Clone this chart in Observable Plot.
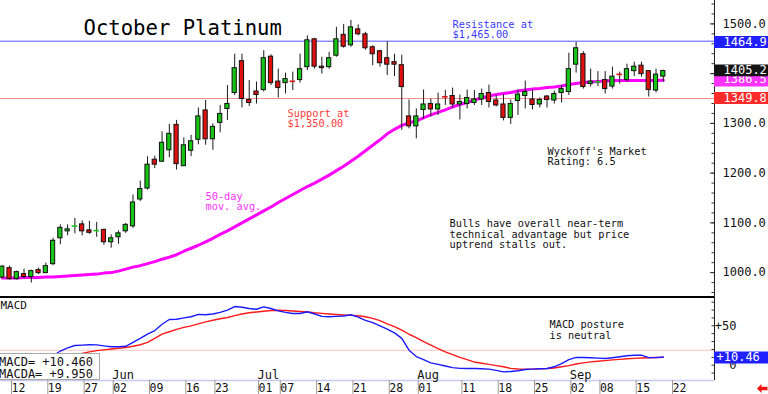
<!DOCTYPE html>
<html>
<head>
<meta charset="utf-8">
<script src="https://cdn.jsdelivr.net/npm/d3@7"></script>
<script src="https://cdn.jsdelivr.net/npm/@observablehq/plot@0.6"></script>
<style>
  html, body { margin: 0; padding: 0; background: #fff; }
  #chart { position: relative; width: 768px; height: 394px; overflow: hidden; background: #fff; font-family: "DejaVu Sans Mono", monospace; }
  #chart svg.plot { position: absolute; left: 0; display: block; overflow: visible; }
  #chart #legend { position: absolute; left: -2px; top: 353px; width: 102px; height: 27px; box-sizing: border-box;
            background: #fff; border: 1px solid #a8a8a8; font-family: "DejaVu Sans Mono", monospace; font-size: 12px;
            line-height: 11.7px; white-space: pre; padding: 3px 0 0 0; color: #111; }
  #chart #arrow { position: absolute; left: 757px; top: 384px; display: block; }
</style>
</head>
<body>
<div id="chart"></div>
<script>
// ---- trading days (2025), plus the next axis date ----
const days = [
  "05-09","05-12","05-13","05-14","05-15","05-16","05-19","05-20","05-21","05-22","05-23","05-27","05-28","05-29","05-30",
  "06-02","06-03","06-04","06-05","06-06","06-09","06-10","06-11","06-12","06-13","06-16","06-17","06-18","06-20","06-23","06-24","06-25","06-26","06-27","06-30",
  "07-01","07-02","07-03","07-07","07-08","07-09","07-10","07-11","07-14","07-15","07-16","07-17","07-18","07-21","07-22","07-23","07-24","07-25","07-28","07-29","07-30","07-31",
  "08-01","08-04","08-05","08-06","08-07","08-08","08-11","08-12","08-13","08-14","08-15","08-18","08-19","08-20","08-21","08-22","08-25","08-26","08-27","08-28","08-29",
  "09-02","09-03","09-04","09-05","09-08","09-09","09-10","09-11","09-12","09-15","09-16","09-17","09-18","09-19",
  "09-22"
];

// ---- October platinum daily OHLC ----
const open = [
  990,1009,987,997,991,1005,999,1017,1069,1083,
  1093,1097,1085,1084,1086,1061,1071,1083,1093,1147,
  1169,1227,1223,1246,1297,1214,1245,1267,1326,1268,
  1301,1329,1361,1425,1347,1364,1367,1434,1384,1381,
  1385,1387,1413,1469,1414,1413,1436,1478,1457,1489,
  1479,1453,1445,1431,1423,1417,1314,1294,1327,1339,
  1328,1354,1355,1338,1339,1341,1348,1361,1346,1338,
  1311,1345,1355,1348,1338,1354,1346,1361,1363,1418,
  1439,1379,1383,1387,1374,1399,1387,1405,1416,1405,
  1366,1394
];
const high = [
  1014,1013,1003,1007,1005,1009,1019,1069,1096,1096,
  1109,1104,1103,1101,1087,1076,1084,1099,1156,1184,
  1233,1234,1283,1298,1306,1271,1276,1331,1346,1299,
  1336,1376,1439,1439,1386,1383,1446,1438,1409,1401,
  1403,1439,1476,1471,1433,1443,1493,1499,1507,1498,
  1483,1456,1447,1464,1439,1437,1347,1329,1367,1349,
  1361,1366,1371,1357,1367,1366,1369,1377,1356,1358,
  1347,1367,1385,1367,1351,1356,1365,1376,1441,1463,
  1444,1409,1404,1404,1413,1403,1419,1423,1423,1406,
  1409,1407
];
const low = [
  988,985,985,988,979,996,998,1014,1056,1074,
  1078,1074,1077,1071,1055,1049,1057,1079,1089,1143,
  1166,1209,1221,1231,1206,1213,1233,1257,1256,1246,
  1281,1306,1356,1331,1334,1339,1363,1376,1351,1359,
  1366,1381,1406,1409,1399,1409,1433,1451,1453,1476,
  1447,1416,1413,1396,1394,1286,1289,1269,1309,1313,
  1316,1336,1331,1307,1329,1336,1336,1331,1333,1305,
  1298,1316,1329,1327,1331,1331,1339,1341,1356,1401,
  1369,1373,1374,1359,1369,1379,1383,1394,1393,1353,
  1361,1383
];
const close = [
  1012,987,1001,991,1003,999,1013,1064,1090,1087,
  1093.5,1083,1080,1084.5,1061,1069,1079,1096,1141,1168,
  1217,1217,1261,1279,1218,1256,1264,1314,1268,1293,
  1319,1339,1411,1349,1341,1357,1431,1381,1371,1389,
  1384.5,1409,1467,1414,1411,1431,1469,1454,1493,1479,
  1451,1439,1421,1418,1418,1373,1294,1314,1338,1328,
  1338,1353.5,1338,1343,1351,1348,1359,1343,1336,1311,
  1339,1358,1363,1337,1347,1347,1359,1369,1409,1451,
  1373,1384,1383.5,1369,1394,1398.5,1409,1414,1399,1367,
  1398,1405.2
];

// ---- 50-day moving average ----
const ma50 = [
  989,989,989,990,990,990,991,991,992,993,
  994,995,996,997,999,1000,1003,1007,1011,1014,
  1018,1022,1027,1031,1036,1043,1049,1055,1062,1069,
  1077,1084,1092,1100,1108,1116,1124,1132,1141,1149,
  1157,1165,1173,1180,1188,1196,1205,1214,1224,1234,
  1245,1256,1267,1279,1288,1296,1301,1305,1311,1317,
  1322,1327,1333,1338,1342,1347,1351,1355,1358,1360,
  1362,1365,1367,1369,1370,1372,1373,1375,1378,1380,
  1382,1383,1384,1385,1386,1386,1386,1386,1386,1386,
  1386,1386.5
];

// ---- MACD (blue) and its average (red), starting on macdStart ----
const macdStart = "05-15";
const macd = [
  -5,0,6,12,18,22,25,25.5,26,25.8,
  24.5,23.5,23.5,24,29,34,39.5,44,52,58,
  58.3,60,61.5,64.5,64,65,67,70,74.5,73.5,
  72,71,74,72,69,67,65.6,65.6,67.8,65,
  62,61.5,62,62.5,64,61,57,54,50,45.7,
  41,34,19,11,7,3,1,-1,-3,-4,
  -4.2,-4.2,-4.5,-5,-6.5,-8.4,-8,-7,-5.5,-5,
  -4.5,-4.2,-2,2,7,10,9.8,9.5,9,8.5,
  9.5,10.7,12,12.7,12.7,9.6,9.6,10.46
];
const macdAvg = [
  -3,0,3,6,8.5,11,13,15,17,18.5,
  19.5,20.5,21.5,22.5,24,26,29,34,39.5,42.5,
  45.5,48,50,52.5,55,57,59,60.5,63,65,
  66.5,67.5,68.5,69.5,69.8,69.5,68.8,68.1,67.5,66.5,
  65.8,65,64.3,63.8,63.3,62.7,61.5,59.5,56.5,52.5,
  49,44.5,39.3,35,30,25.5,21,17,13.5,10,
  7,4,2.5,1,-0.5,-2,-4,-4.8,-5.1,-5,
  -4.6,-4.2,-3.5,-2,-0.5,1.5,3,4.2,5,5.8,
  6.8,7.4,8.2,8.7,9.1,9.4,9.7,9.95
];

// ---- levels, ticks, labels ----
const resistance = 1465, support = 1350;
const resistanceTag = 1464.9, lastClose = 1405.2, lastMA = 1386.5, supportTag = 1349.8;
const priceTicks = [1000, 1100, 1200, 1300, 1400, 1500];
const priceLabels = [1000, 1100, 1200, 1300, 1500];   // 1400.0 is hidden behind the value tags
const macdTicks = [0, 50];
const macdRef = 19;
const macdLast = 10.46;
const dayTicks = ["05-12","05-19","05-27","06-02","06-09","06-16","06-23","07-01","07-07","07-14","07-21","07-28","08-01","08-11","08-18","08-25","09-02","09-08","09-15","09-22"];
const monthTicks = ["06-02","07-01","08-01","09-02"];
const monthNames = ["Jun","Jul","Aug","Sep"];

// ---- layout ----
const X0 = -0.239, X1 = 98.05;          // visible index range
const PRICE_DOMAIN = [952, 1547];
const MACD_DOMAIN = [-19.4, 87.2];
const FONT = "'DejaVu Sans Mono', monospace";
const UP = "#16c416", DOWN = "#e01010";

const candles = close.map((c, j) => ({j, o: open[j], h: high[j], l: low[j], c}));
const bodies = candles.filter(d => Math.abs(d.c - d.o) >= 1.5);
const crosses = candles.filter(d => Math.abs(d.c - d.o) < 1.5);
const col = d => d.c >= d.o ? UP : DOWN;
const maData = ma50.map((v, j) => ({j, v}));
const m0 = days.indexOf(macdStart);
const macdData = macd.map((v, i) => ({j: m0 + i, v}));
const macdAvgData = macdAvg.map((v, i) => ({j: m0 + i, v}));

const note = (s, dx, dy, size, fill, lh = 1) =>
  Plot.text([s], {text: d => d, frameAnchor: "top-left", dx, dy, fontSize: size, fill,
                  lineAnchor: "top", textAnchor: "start", lineHeight: lh});

const tags = [
  {v: lastMA, bg: "#ff33ff", dy: 0.15, tdy: -0.8},
  {v: lastClose, bg: "#141414", dy: -0.7, tdy: -0.7},
  {v: resistanceTag, bg: "#2020ff", dy: 0.66, tdy: 0.4},
  {v: supportTag, bg: "#ff2a2a", dy: -0.6, tdy: -0.6}
];
const tagMarks = tags.flatMap(t => [
  Plot.ruleY([t.v], {x1: X1, x2: X1 + 7.5, stroke: t.bg, strokeWidth: 11.8, dy: t.dy}),
  Plot.text([t.v], {y: d => d, frameAnchor: "right", dx: 9, dy: t.tdy, text: d => d.toFixed(1),
                    fill: "white", textAnchor: "start", lineAnchor: "middle", fontSize: 12})
]);

const main = Plot.plot({
  className: "plot",
  width: 768, height: 296,
  marginLeft: 0, marginRight: 54, marginTop: 0, marginBottom: 0,
  x: {domain: [X0, X1], axis: null, label: null},
  y: {domain: PRICE_DOMAIN, label: null},
  color: {type: "identity"},
  style: {fontFamily: FONT, fontSize: "11px", background: "white", overflow: "visible"},
  marks: [
    Plot.ruleY([resistance], {stroke: "#8c8cff", strokeWidth: 1.5}),
    Plot.ruleY([support], {stroke: "#f29090", strokeWidth: 1.2}),
    Plot.line(maData, {x: "j", y: "v", stroke: "#ff00ff", strokeWidth: 3}),
    Plot.ruleX(candles, {x: "j", y1: "l", y2: "h", stroke: "#1a1a1a", strokeWidth: 1}),
    Plot.rect(bodies, {x1: d => d.j - 0.29, x2: d => d.j + 0.29, y1: "o", y2: "c", fill: col, stroke: "#111", strokeWidth: 1}),
    Plot.ruleY(crosses, {y: "c", x1: d => d.j - 0.38, x2: d => d.j + 0.38, stroke: col, strokeWidth: 1.6}),
    Plot.ruleX([X1], {stroke: "#222", strokeWidth: 1}),
    Plot.axisY(d3.range(960, 1541, 20), {anchor: "left", frameAnchor: "right", tickSize: 2.5, fill: "none", stroke: "#333"}),
    Plot.axisY(priceTicks, {anchor: "left", frameAnchor: "right", tickSize: 4, fill: "none", stroke: "#333"}),
    Plot.axisY(priceLabels, {anchor: "right", tickSize: 0, tickPadding: 8, tickFormat: d => d.toFixed(1),
                             fontSize: 12, fill: "#111"}),
    ...tagMarks,
    note("October Platinum", 83, 20, 20.6, "#000"),
    note("Resistance at\n$1,465.00", 452, 19.7, 10.3, "#3c3cff", 1.0),
    note("Support at\n$1,350.00", 287, 109, 10.3, "#ff3c3c", 1.0),
    note("50-day\nmov. avg.", 205, 191.7, 10.3, "#ff33ff", 1.0),
    note("Wyckoff's Market\nRating: 6.5", 547, 146.7, 10.3, "#111", 1.03),
    note("Bulls have overall near-term\ntechnical advantage but price\nuptrend stalls out.", 449, 219.3, 10.3, "#111", 1.02)
  ]
});

const lower = Plot.plot({
  className: "plot",
  width: 768, height: 98,
  marginLeft: 0, marginRight: 54, marginTop: 0, marginBottom: 14,
  x: {domain: [X0, X1], label: null},
  y: {domain: MACD_DOMAIN, label: null},
  style: {fontFamily: FONT, fontSize: "11px", background: "white", overflow: "visible"},
  marks: [
    Plot.ruleY([macdRef], {stroke: "#ffc2c2", strokeWidth: 1}),
    Plot.ruleY([MACD_DOMAIN[0]], {stroke: "#c8c8f4", strokeWidth: 1.5}),
    Plot.line(macdAvgData, {x: "j", y: "v", stroke: "#ff1a1a", strokeWidth: 1.4}),
    Plot.line(macdData, {x: "j", y: "v", stroke: "#1a1aff", strokeWidth: 1.4}),
    Plot.ruleY([MACD_DOMAIN[1]], {stroke: "#000", strokeWidth: 2, dy: 0.5}),
    Plot.ruleX([X1], {stroke: "#222", strokeWidth: 1}),
    Plot.axisY(d3.range(-10, 81, 10), {anchor: "left", frameAnchor: "right", tickSize: 2.5, fill: "none", stroke: "#333"}),
    Plot.axisY(macdTicks, {anchor: "right", tickSize: 0, tickPadding: 22, textAnchor: "end",
                           tickFormat: d => d > 0 ? "+" + d : String(d), fontSize: 12, fill: "#111"}),
    Plot.ruleY([macdLast], {x1: X1, x2: X1 + 7.5, stroke: "#2020ff", strokeWidth: 12, dy: 0.5}),
    Plot.text([macdLast], {y: d => d, frameAnchor: "right", dx: 2, dy: 0.5, text: d => "+" + d.toFixed(2),
                           fill: "white", textAnchor: "start", lineAnchor: "middle", fontSize: 12}),
    Plot.axisX(dayTicks.map(d => days.indexOf(d)), {anchor: "bottom", tickSize: 14, tickPadding: -11,
                           textAnchor: "start", dx: 2, tickFormat: j => days[j].slice(3),
                           stroke: "#9a9a9a", fill: "#111", fontSize: 11.5}),
    Plot.text(monthTicks.map((d, i) => ({j: days.indexOf(d), name: monthNames[i]})),
              {x: "j", text: "name", frameAnchor: "bottom", lineAnchor: "bottom", textAnchor: "start",
               dx: 1, dy: -1.3, fontSize: 12, fill: "#111"}),
    note("MACD", 0, 4.3, 11, "#111"),
    note("MACD posture\nis neutral", 549, 24.3, 10.3, "#111", 1.04)
  ]
});

const chart = document.getElementById("chart");
main.style.top = "0px";
lower.style.top = "296px";
chart.appendChild(main);
chart.appendChild(lower);

const legend = document.createElement("div");
legend.id = "legend";
legend.textContent = "MACD= +" + macdLast.toFixed(3) + "\nMACDA= +" + macdAvg[macdAvg.length - 1].toFixed(3);
chart.appendChild(legend);

const arrow = document.createElementNS("http://www.w3.org/2000/svg", "svg");
arrow.setAttribute("id", "arrow");
arrow.setAttribute("width", "11");
arrow.setAttribute("height", "9");
arrow.innerHTML = '<path d="M0 4.5 L4.5 0 L4.5 2.8 L10.5 2.8 L10.5 6.2 L4.5 6.2 L4.5 9 Z" fill="#ee1111"/>';
chart.appendChild(arrow);
</script>
</body>
</html>
